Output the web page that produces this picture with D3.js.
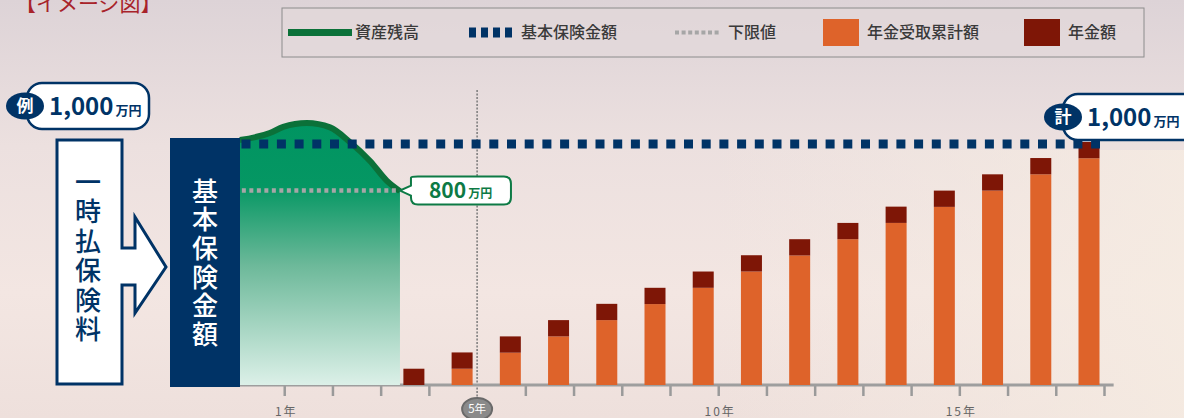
<!DOCTYPE html>
<html><head><meta charset="utf-8">
<script src="https://cdn.jsdelivr.net/npm/d3@7/dist/d3.min.js"></script>
<style>
html,body{margin:0;padding:0;background:#e8dcdc;}
svg{display:block;font-family:"Noto Sans CJK JP","Noto Sans",sans-serif;}
.vert{writing-mode:vertical-rl;text-orientation:upright;}
</style></head>
<body>
<svg id="chart" width="1184" height="418"></svg>
<script>
// ---------- data ----------
const legendLabels = ["資産残高", "基本保険金額", "下限値", "年金受取累計額", "年金額"];
const payoutYears = [4, 5, 6, 7, 8, 9, 10, 11, 12, 13, 14, 15, 16, 17, 18];
const cumulativeBefore = [0, 67, 133, 200, 267, 333, 400, 467, 533, 600, 667, 733, 800, 867, 933];
const annualAmount = [67, 67, 67, 67, 67, 67, 67, 67, 67, 67, 67, 67, 67, 67, 67];
const assetYears = [0.08, 0.7, 0.98, 1.47, 1.95, 2.36, 2.78, 3.13, 3.40];
const assetValues = [1008, 1037, 1062, 1078, 1060, 1000, 922, 840, 798];
const basicAmount = 1000;
const floorAmount = 800;
const totalAmount = 1000;
const tickYears = [1, 2, 3, 4, 5, 6, 7, 8, 9, 10, 11, 12, 13, 14, 15, 16, 17, 18];
const tickLabelYears = [1, 10, 15];
const tickLabels = ["1年", "10年", "15年"];
const markerYear = 5;
const markerLabel = "5年";
const premiumLabel = "一時払保険料";
const basicLabel = "基本保険金額";

// ---------- colours ----------
const C = {
  navy: "#003366", green: "#009461", greenDark: "#0b7139", orange: "#de632a",
  darkRed: "#7e1606", gray: "#9c9c9c", text: "#3a3a3a", title: "#a8232a"
};

const svg = d3.select("#chart");
const defs = svg.append("defs");

// background
const bg = defs.append("linearGradient").attr("id", "bg").attr("x1", 0).attr("y1", 0).attr("x2", 0).attr("y2", 1);
bg.append("stop").attr("offset", "0%").attr("stop-color", "#ddd3d7");
bg.append("stop").attr("offset", "35%").attr("stop-color", "#ece0df");
bg.append("stop").attr("offset", "70%").attr("stop-color", "#f3e6e2");
bg.append("stop").attr("offset", "100%").attr("stop-color", "#eee0dc");
const bg2 = defs.append("linearGradient").attr("id", "bg2").attr("x1", 0).attr("y1", 0).attr("x2", 1).attr("y2", 0);
bg2.append("stop").attr("offset", "0%").attr("stop-color", "#f5ebe2").attr("stop-opacity", 0);
bg2.append("stop").attr("offset", "60%").attr("stop-color", "#f5ebe2").attr("stop-opacity", 0);
bg2.append("stop").attr("offset", "100%").attr("stop-color", "#f6ece2").attr("stop-opacity", 0.8);
svg.append("rect").attr("width", 1184).attr("height", 418).attr("fill", "url(#bg)");
svg.append("rect").attr("y", 150).attr("width", 1184).attr("height", 268).attr("fill", "url(#bg2)");

// green area gradient
const ga = defs.append("linearGradient").attr("id", "ga").attr("gradientUnits", "userSpaceOnUse")
  .attr("x1", 0).attr("y1", 120).attr("x2", 0).attr("y2", 385);
ga.append("stop").attr("offset", "0%").attr("stop-color", "#009461");
ga.append("stop").attr("offset", "25%").attr("stop-color", "#059763");
ga.append("stop").attr("offset", "55%").attr("stop-color", "#6db99a");
ga.append("stop").attr("offset", "100%").attr("stop-color", "#dcf0e8");

// ---------- scales ----------
const x = d3.scaleLinear().domain([0, 18]).range([236, 1104]);
const y = d3.scaleLinear().domain([0, 1000]).range([385, 142]);

// ---------- title (cut at top, as in the reference) ----------
svg.append("text").attr("x", 15).attr("y", 11).attr("font-size", 21).attr("fill", C.title)
  .text("【イメージ図】");

// ---------- legend ----------
const lg = svg.append("g");
lg.append("rect").attr("x", 282).attr("y", 8).attr("width", 862).attr("height", 49)
  .attr("fill", "#e2d8db").attr("fill-opacity", 0.6).attr("stroke", "#8c8c8c").attr("stroke-width", 1);
const ly = 32.5;
lg.append("line").attr("x1", 288).attr("x2", 352).attr("y1", ly).attr("y2", ly)
  .attr("stroke", C.greenDark).attr("stroke-width", 7);
lg.append("line").attr("x1", 469).attr("x2", 514).attr("y1", ly).attr("y2", ly)
  .attr("stroke", C.navy).attr("stroke-width", 10).attr("stroke-dasharray", "7 5");
lg.append("line").attr("x1", 675).attr("x2", 721).attr("y1", ly).attr("y2", ly)
  .attr("stroke", "#a6a6a6").attr("stroke-width", 4).attr("stroke-dasharray", "4 2.6");
lg.append("rect").attr("x", 823).attr("y", 19).attr("width", 36).attr("height", 27).attr("fill", C.orange);
lg.append("rect").attr("x", 1024).attr("y", 19).attr("width", 36).attr("height", 27).attr("fill", C.darkRed);
const legendX = [355, 521, 728, 867, 1068];
lg.selectAll("text.leg").data(legendLabels).join("text").attr("class", "leg")
  .attr("x", (d, i) => legendX[i]).attr("y", ly).attr("dy", "0.36em")
  .attr("font-size", 16).attr("font-weight", 500).attr("fill", C.text).text(d => d);

// ---------- 5-year marker line ----------
svg.append("line").attr("x1", x(markerYear)).attr("x2", x(markerYear)).attr("y1", 90).attr("y2", 398)
  .attr("stroke", "#7a7a7a").attr("stroke-width", 1.5).attr("stroke-dasharray", "2 1.5");

// ---------- axis ----------
const axisG = svg.append("g").attr("transform", "translate(0,385)");
axisG.call(d3.axisBottom(x).tickValues(tickYears).tickSize(11).tickFormat(""));
axisG.select(".domain").remove();
axisG.selectAll(".tick line").attr("stroke", "#9a9a9a").attr("stroke-width", 2.5);
axisG.selectAll(".tick").filter(d => d === markerYear).remove();
axisG.append("line").attr("x1", 240).attr("x2", x(18.2)).attr("y1", 0).attr("y2", 0)
  .attr("stroke", "#9e9e9e").attr("stroke-width", 3);
svg.selectAll("text.tl").data(tickLabelYears).join("text").attr("class", "tl")
  .attr("x", d => x(d) + 2).attr("y", 416).attr("text-anchor", "middle")
  .attr("font-size", 12).attr("fill", "#666").attr("letter-spacing", 2)
  .text((d, i) => tickLabels[i]);
svg.append("ellipse").attr("cx", x(markerYear)).attr("cy", 409).attr("rx", 15).attr("ry", 11)
  .attr("fill", "#8a8a8a").attr("stroke", "#6a6a6a").attr("stroke-width", 2);
svg.append("text").attr("x", x(markerYear)).attr("y", 409).attr("dy", "0.36em").attr("text-anchor", "middle")
  .attr("font-size", 11.5).attr("fill", "#fff").text(markerLabel);

// ---------- asset area ----------
const assetData = assetYears.map((t, i) => ({ t, v: assetValues[i] }));
const area = d3.area().x(d => x(d.t)).y0(y(0)).y1(d => y(d.v)).curve(d3.curveMonotoneX);
const line = d3.line().x(d => x(d.t)).y(d => y(d.v)).curve(d3.curveMonotoneX);
svg.append("path").datum(assetData).attr("d", area).attr("fill", "url(#ga)");
svg.append("path").datum(assetData).attr("d", line).attr("fill", "none")
  .attr("stroke", C.greenDark).attr("stroke-width", 6);

// floor dotted line
svg.append("line").attr("x1", x(assetYears[0]) + 2).attr("x2", x(assetYears[assetYears.length - 1]) - 2)
  .attr("y1", y(floorAmount)).attr("y2", y(floorAmount))
  .attr("stroke", "#a6a6a6").attr("stroke-width", 4.5).attr("stroke-dasharray", "4 3.5");

// ---------- navy box ----------
svg.append("rect").attr("x", 170).attr("y", 138).attr("width", 70).attr("height", 249).attr("fill", C.navy);
svg.append("text").attr("class", "vert").attr("x", 205).attr("y", 178)
  .attr("font-size", 26).attr("font-weight", 500).attr("letter-spacing", 2.6)
  .attr("fill", "#fff").text(basicLabel);

// ---------- arrow ----------
svg.append("path")
  .attr("d", "M57,140 L122,140 L122,248 L135,248 L135,217 L166,267 L135,313 L135,285 L122,285 L122,384 L57,384 Z")
  .attr("fill", "#fff").attr("stroke", C.navy).attr("stroke-width", 3).attr("stroke-linejoin", "miter");
svg.append("text").attr("class", "vert").attr("x", 88).attr("y", 169)
  .attr("font-size", 26).attr("font-weight", 500).attr("letter-spacing", 3.5)
  .attr("fill", C.navy).text(premiumLabel);

// ---------- bars ----------
const barW = 21;
const bars = svg.append("g");
bars.selectAll("rect.cum").data(payoutYears).join("rect").attr("class", "cum")
  .attr("x", d => x(d) - 25.5).attr("width", barW)
  .attr("y", (d, i) => y(cumulativeBefore[i])).attr("height", (d, i) => y(0) - y(cumulativeBefore[i]))
  .attr("fill", C.orange);
bars.selectAll("rect.ann").data(payoutYears).join("rect").attr("class", "ann")
  .attr("x", d => x(d) - 25.5).attr("width", barW)
  .attr("y", (d, i) => y(cumulativeBefore[i] + annualAmount[i]))
  .attr("height", (d, i) => y(cumulativeBefore[i]) - y(cumulativeBefore[i] + annualAmount[i]))
  .attr("fill", C.darkRed);

// ---------- basic amount dotted line ----------
svg.append("line").attr("x1", 241.5).attr("x2", x(payoutYears[payoutYears.length - 1]) - 4)
  .attr("y1", y(basicAmount) + 2).attr("y2", y(basicAmount) + 2)
  .attr("stroke", C.navy).attr("stroke-width", 9).attr("stroke-dasharray", "9 8.7");

// ---------- callouts ----------
function amountLabel(g, cx, cy, badge, num, rectX, rectW, numX, color) {
  g.append("rect").attr("x", rectX).attr("y", cy - 23).attr("width", rectW).attr("height", 46).attr("rx", 15)
    .attr("fill", "#fff").attr("stroke", color).attr("stroke-width", 2.5);
  g.append("ellipse").attr("cx", cx).attr("cy", cy).attr("rx", 19).attr("ry", 13.5).attr("fill", color);
  g.append("text").attr("x", cx).attr("y", cy).attr("dy", "0.36em").attr("text-anchor", "middle")
    .attr("font-size", 17).attr("font-weight", 700).attr("fill", "#fff").text(badge);
  const t = g.append("text").attr("x", numX).attr("y", cy + 9).attr("fill", color).attr("font-weight", 700);
  t.append("tspan").attr("font-size", 24).text(num);
  t.append("tspan").attr("font-size", 13).attr("dx", 2).text("万円");
}
amountLabel(svg.append("g"), 25, 106, "例", d3.format(",")(basicAmount), 27, 122, 49, C.navy);
amountLabel(svg.append("g"), 1063, 117, "計", d3.format(",")(totalAmount), 1063, 140, 1087, C.navy);

// 800 label
const fy = y(floorAmount);
const lx = x(assetYears[assetYears.length - 1]);
const g8 = svg.append("g");
g8.append("path")
  .attr("d", `M${lx + 11},${fy - 13} Q${lx + 11},${fy - 14} ${lx + 18},${fy - 14} L${lx + 104},${fy - 14} Q${lx + 111},${fy - 14} ${lx + 111},${fy - 7} L${lx + 111},${fy + 7} Q${lx + 111},${fy + 14} ${lx + 104},${fy + 14} L${lx + 18},${fy + 14} Q${lx + 11},${fy + 14} ${lx + 11},${fy + 7} L${lx + 11},${fy + 5} L${lx},${fy} L${lx + 11},${fy - 5} Z`)
  .attr("fill", "#fff").attr("stroke", "#0d7a45").attr("stroke-width", 2);
const t8 = g8.append("text").attr("x", lx + 29).attr("y", fy + 7.5).attr("fill", "#0d7a45").attr("font-weight", 700);
t8.append("tspan").attr("font-size", 21).text(floorAmount);
t8.append("tspan").attr("font-size", 12).attr("dx", 2).text("万円");
</script>
</body></html>
